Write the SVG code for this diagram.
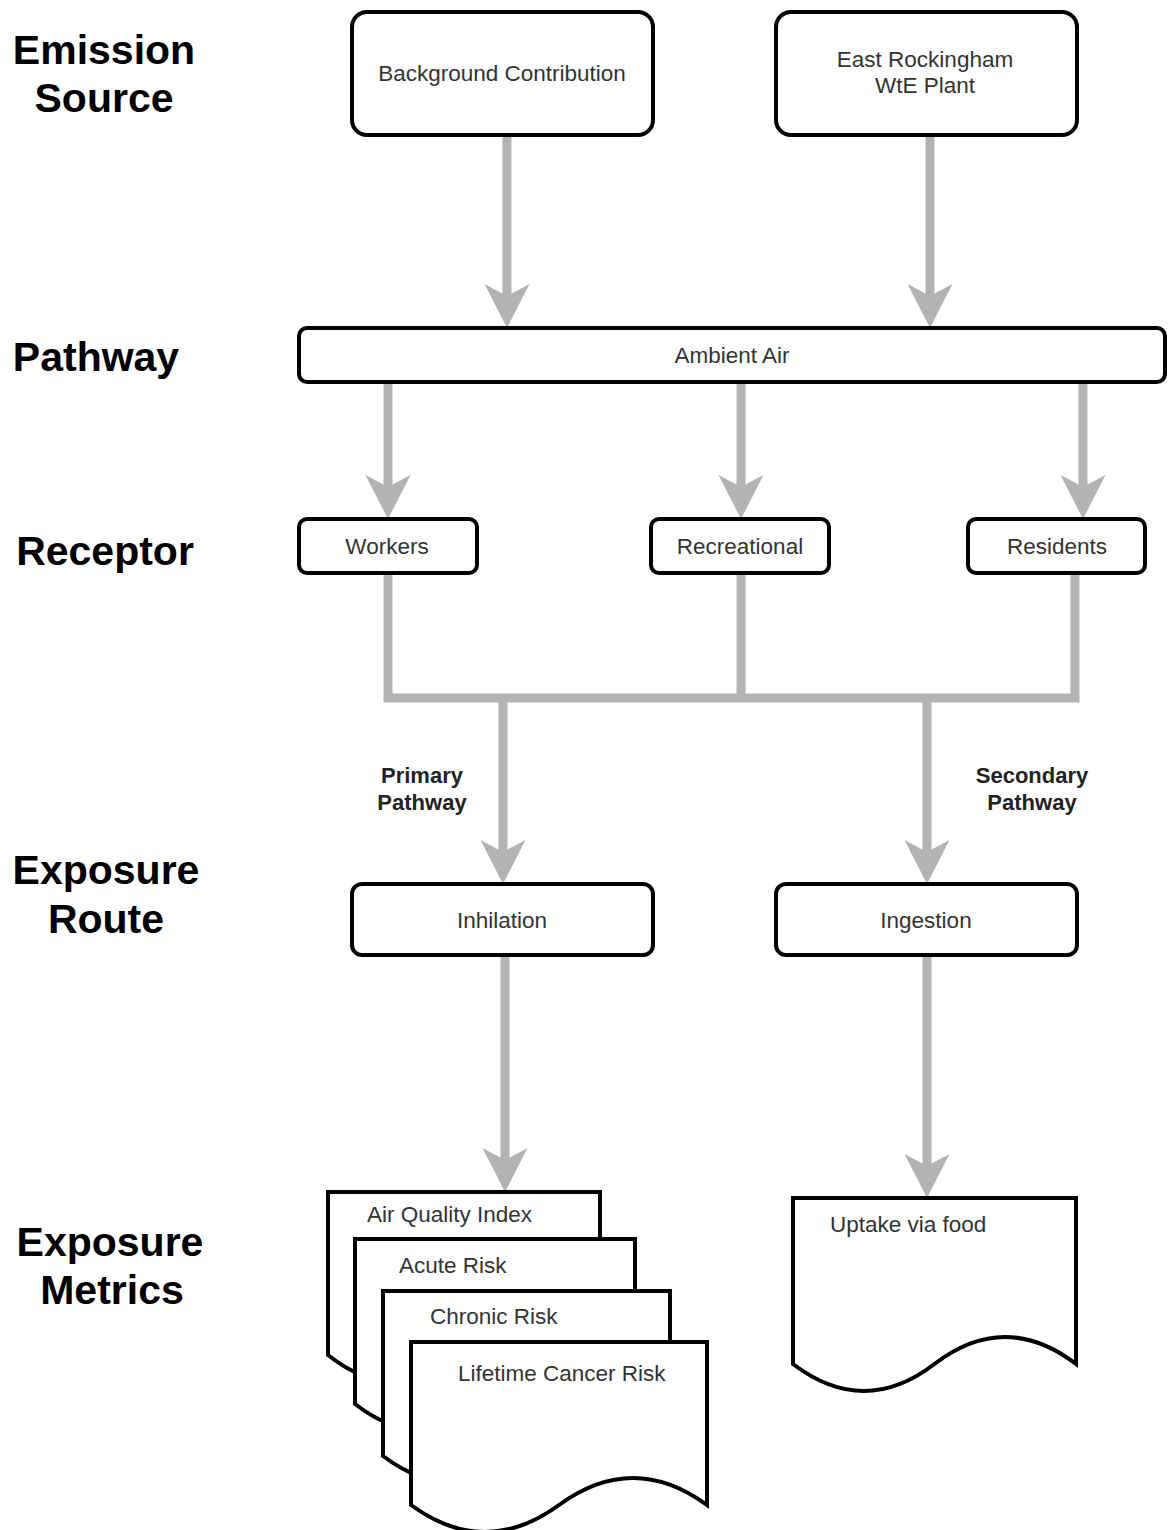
<svg xmlns="http://www.w3.org/2000/svg" width="1168" height="1530" viewBox="0 0 1168 1530">
  <style>
    .box { fill: #ffffff; stroke: #000000; stroke-width: 4; }
    .doc { fill: #ffffff; stroke: #000000; stroke-width: 4; stroke-linejoin: miter; }
    .lbl { font-family: "Liberation Sans", Arial, sans-serif; font-size: 22.5px; fill: #333333; text-anchor: middle; }
    .dlbl { font-family: "Liberation Sans", Arial, sans-serif; font-size: 22.5px; fill: #333333; }
    .head { font-family: "Liberation Sans", Arial, sans-serif; font-size: 41px; font-weight: bold; fill: #000000; text-anchor: middle; }
    .side { font-family: "Liberation Sans", Arial, sans-serif; font-size: 22px; font-weight: bold; fill: #222222; text-anchor: middle; }
    .conn { fill: none; stroke: #b3b3b3; stroke-width: 9; }
  </style>
  <defs>
    <marker id="arr" markerUnits="userSpaceOnUse" markerWidth="50" markerHeight="50" viewBox="0 -25 50 50" refX="12" refY="0" orient="auto">
      <path d="M0,-22.5 L44,0 L0,22.5 L12,0 Z" fill="#b3b3b3"/>
    </marker>
  </defs>
  <rect width="1168" height="1530" fill="#ffffff"/>

  <g id="row-labels">
    <text class="head" x="104" y="64">Emission</text>
    <text class="head" x="104" y="112">Source</text>
    <text class="head" x="96" y="371">Pathway</text>
    <text class="head" x="105" y="565">Receptor</text>
    <text class="head" x="106" y="884">Exposure</text>
    <text class="head" x="106" y="933">Route</text>
    <text class="head" x="110" y="1256">Exposure</text>
    <text class="head" x="112" y="1304">Metrics</text>
  </g>

  <g id="connectors">
    <path class="conn" d="M507,135 V296" marker-end="url(#arr)"/>
    <path class="conn" d="M930,135 V296" marker-end="url(#arr)"/>
    <path class="conn" d="M388,382 V487" marker-end="url(#arr)"/>
    <path class="conn" d="M741,382 V487" marker-end="url(#arr)"/>
    <path class="conn" d="M1083,382 V487" marker-end="url(#arr)"/>
    <path class="conn" d="M388,573 V698 H1075 V573"/>
    <path class="conn" d="M741,573 V698"/>
    <path class="conn" d="M503,698 V852" marker-end="url(#arr)"/>
    <path class="conn" d="M927,698 V852" marker-end="url(#arr)"/>
    <path class="conn" d="M505,955 V1160" marker-end="url(#arr)"/>
    <path class="conn" d="M927,955 V1166" marker-end="url(#arr)"/>
  </g>

  <g id="edge-label-primary">
    <text class="side" x="422" y="783">Primary</text>
    <text class="side" x="422" y="810">Pathway</text>
  </g>
  <g id="edge-label-secondary">
    <text class="side" x="1032" y="783">Secondary</text>
    <text class="side" x="1032" y="810">Pathway</text>
  </g>

  <g id="node-background">
    <rect class="box" x="352" y="12" width="301" height="123" rx="15"/>
    <text class="lbl" x="502" y="81">Background Contribution</text>
  </g>
  <g id="node-east-rockingham">
    <rect class="box" x="776" y="12" width="301" height="123" rx="15"/>
    <text class="lbl" x="925" y="67">East Rockingham</text>
    <text class="lbl" x="925" y="93">WtE Plant</text>
  </g>
  <g id="node-ambient-air">
    <rect class="box" x="299" y="328" width="866" height="54" rx="8"/>
    <text class="lbl" x="732" y="363">Ambient Air</text>
  </g>
  <g id="node-workers">
    <rect class="box" x="299" y="519" width="178" height="54" rx="8"/>
    <text class="lbl" x="387" y="554">Workers</text>
  </g>
  <g id="node-recreational">
    <rect class="box" x="651" y="519" width="178" height="54" rx="8"/>
    <text class="lbl" x="740" y="554">Recreational</text>
  </g>
  <g id="node-residents">
    <rect class="box" x="968" y="519" width="177" height="54" rx="8"/>
    <text class="lbl" x="1057" y="554">Residents</text>
  </g>
  <g id="node-inhilation">
    <rect class="box" x="352" y="884" width="301" height="71" rx="10"/>
    <text class="lbl" x="502" y="928">Inhilation</text>
  </g>
  <g id="node-ingestion">
    <rect class="box" x="776" y="884" width="301" height="71" rx="10"/>
    <text class="lbl" x="926" y="928">Ingestion</text>
  </g>

  <g id="node-air-quality-index">
    <path class="doc" d="M328,1192 H600 V1355 Q532,1301 464,1355 T328,1355 Z"/>
    <text class="dlbl" x="367" y="1222">Air Quality Index</text>
  </g>
  <g id="node-acute-risk">
    <path class="doc" d="M355,1239 H635 V1404 Q565,1350 495,1404 T355,1404 Z"/>
    <text class="dlbl" x="399" y="1273">Acute Risk</text>
  </g>
  <g id="node-chronic-risk">
    <path class="doc" d="M383,1291 H670 V1456 Q598,1402 526.5,1456 T383,1456 Z"/>
    <text class="dlbl" x="430" y="1324">Chronic Risk</text>
  </g>
  <g id="node-lifetime-cancer-risk">
    <path class="doc" d="M411,1342 H707 V1505 Q633,1451 559,1505 T411,1505 Z"/>
    <text class="dlbl" x="458" y="1381">Lifetime Cancer Risk</text>
  </g>
  <g id="node-uptake-via-food">
    <path class="doc" d="M793,1198 H1076 V1364 Q1005,1310 934.5,1364 T793,1364 Z"/>
    <text class="dlbl" x="830" y="1232">Uptake via food</text>
  </g>
</svg>
